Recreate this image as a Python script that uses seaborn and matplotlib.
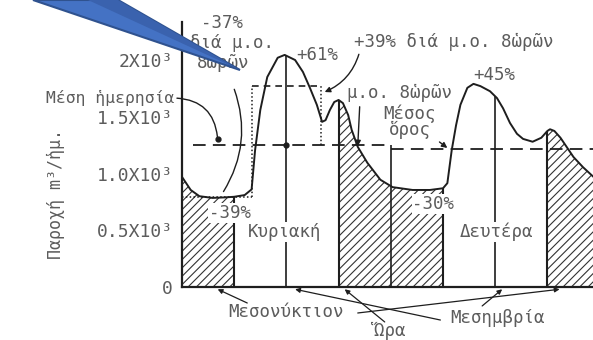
import numpy as np
import pandas as pd
import matplotlib.pyplot as plt
from matplotlib.patches import Polygon
import seaborn as sns

# --- data (hours from Sunday midnight, m3/h) ---
hours = [0, 1, 2, 3.5, 5, 6, 7.2, 8.0, 8.4, 9.0, 9.8, 11.0, 11.8, 13.0, 13.9, 14.7,
         15.5, 16.1, 16.5, 17.0, 17.5, 18.0, 18.5, 19.1, 19.5, 20.2, 21.3, 22.8, 24.2,
         26.5, 28.5, 30.0, 30.5, 31.0, 31.5, 32.0, 32.8, 33.5, 34.3, 35.4, 36.2, 36.9,
         37.7, 38.5, 39.2, 40.3, 41.3, 42.0, 42.3, 42.8, 43.5, 45.0, 46.1, 47.3]
flow = [970, 855, 800, 785, 790, 795, 810, 860, 1205, 1560, 1850, 2020, 2045, 2000, 1895, 1755,
        1605, 1455, 1470, 1560, 1630, 1648, 1620, 1515, 1385, 1235, 1095, 945, 880,
        855, 855, 870, 915, 1205, 1425, 1605, 1755, 1790, 1770, 1725, 1665, 1575,
        1445, 1350, 1305, 1280, 1315, 1375, 1390, 1375, 1315, 1145, 1055, 970]

low_start = [0, 18, 42]
low_end = [6, 30, 47.3]
marker_hours = [12, 36]

ma_edges = [0, 8, 16, 24]
ma_values = [790, 1770, 1250]

day_edges = [1.3, 24, 47.3]
day_mean = [1250, 1220]

yticks = [0, 500, 1000, 1500, 2000]
ytick_labels = ['0', '0.5X10³', '1.0X10³', '1.5X10³', '2X10³']
xticks = [3, 9, 15, 21, 27, 33, 39, 45]

sns.set_style('white')
plt.rcParams['font.family'] = ['DejaVu Sans Mono', 'DejaVu Sans']
plt.rcParams['hatch.linewidth'] = 0.8

ink = '#1e1e1e'
txt = dict(fontsize=12.5, color='#5c5c5c')
wbox = dict(facecolor='white', edgecolor='none', pad=0.5)

fig = plt.figure(figsize=(5.93, 3.40), dpi=100)
ax = fig.add_axes([182 / 593, 53 / 340, 411 / 593, 265 / 340])

df = pd.DataFrame({'hour': hours, 'flow': flow})
sns.lineplot(data=df, x='hour', y='flow', ax=ax, color=ink, lw=1.4,
             estimator=None, sort=False)

# hatched low-flow periods
for s, e in zip(low_start, low_end):
    m = (df['hour'] >= s) & (df['hour'] <= e)
    ax.fill_between(df['hour'][m], df['flow'][m], 0, facecolor='none',
                    edgecolor='#333333', hatch='////', linewidth=0)
    for b in (s, e):
        if 0 < b < hours[-1]:
            ax.vlines(b, 0, np.interp(b, hours, flow), color=ink, lw=1.5)

for h in marker_hours:
    ax.vlines(h, 0, np.interp(h, hours, flow), color=ink, lw=1.2)
ax.vlines(ma_edges[-1], 0, day_mean[0], color=ink, lw=1.2)

# daily means
for i, v in enumerate(day_mean):
    ax.hlines(v, day_edges[i], day_edges[i + 1], color=ink, lw=1.3, ls=(0, (7, 4)))

# 8-hour moving average steps
ax.hlines(ma_values[0], ma_edges[0], ma_edges[1], color=ink, lw=1.1, ls=(0, (1, 1.5)))
ax.hlines(ma_values[1], ma_edges[1], ma_edges[2], color=ink, lw=1.2, ls=(0, (4, 3)))
ax.vlines(ma_edges[1], ma_values[0], ma_values[1], color=ink, lw=1.1, ls=(0, (1, 1.5)))
ax.vlines(ma_edges[2], ma_values[2], ma_values[1], color=ink, lw=1.1, ls=(0, (1, 1.5)))
ax.plot([marker_hours[0]], [day_mean[0]], 'o', color=ink, ms=3.5)

# labels on the chart
ax.text(4.6, 2326, '-37%', ha='center', va='center', **txt)
ax.text(5.7, 2150, 'διά μ.ο.', ha='center', va='center', **txt)
ax.text(4.7, 1974, '8ὡρῶν', ha='center', va='center', **txt)
ax.annotate('', xy=(4.6, 820), xytext=(5.9, 1765),
            arrowprops=dict(arrowstyle='-', color=ink, lw=1,
                            connectionstyle='arc3,rad=-0.25'))

ax.text(-8.3, 1665, 'Μέση ἡμερησία', ha='center', va='center',
        fontsize=11.8, color='#5c5c5c')
ax.annotate('', xy=(4.1, 1300), xytext=(-0.9, 1665), annotation_clip=False,
            arrowprops=dict(arrowstyle='-', color=ink, lw=1,
                            connectionstyle='arc3,rad=-0.45'))
ax.plot([4.1], [1300], 'o', color=ink, ms=3.5)

ax.text(15.6, 2044, '+61%', ha='center', va='center', **txt)
ax.annotate('+39% διά μ.ο. 8ὡρῶν', xy=(16.4, 1718), xytext=(19.8, 2159),
            ha='left', va='center', **txt,
            arrowprops=dict(arrowstyle='-|>', color=ink, lw=1, mutation_scale=8,
                            relpos=(0.03, 0.1), shrinkA=0, shrinkB=0,
                            connectionstyle='arc3,rad=-0.25'))
ax.annotate('μ.ο. 8ὡρῶν', xy=(20.2, 1240), xytext=(19.0, 1709),
            ha='left', va='center', **txt,
            arrowprops=dict(arrowstyle='-|>', color=ink, lw=1, mutation_scale=8,
                            relpos=(0.12, 0), shrinkA=1, shrinkB=0))
ax.annotate('Μέσος\nὅρος', xy=(30.5, 1225), xytext=(26.2, 1454),
            ha='center', va='center', linespacing=0.85, **txt,
            arrowprops=dict(arrowstyle='-|>', color=ink, lw=1, mutation_scale=8,
                            relpos=(0.95, 0.05), shrinkA=0, shrinkB=0))
ax.text(35.9, 1868, '+45%', ha='center', va='center', **txt)

ax.text(5.5, 652, '-39%', ha='center', va='center', bbox=wbox, zorder=5, **txt)
ax.text(28.9, 731, '-30%', ha='center', va='center', bbox=wbox, zorder=5, **txt)
ax.text(11.8, 485, 'Κυριακή', ha='center', va='center', bbox=wbox, zorder=5, **txt)
ax.text(36.1, 485, 'Δευτέρα', ha='center', va='center', bbox=wbox, zorder=5, **txt)

# time captions under the axis
ax.text(12.0, -220, 'Μεσονύκτιον', ha='center', va='center', **txt)
ax.text(23.9, -388, 'Ὥρα', ha='center', va='center', **txt)
ax.text(36.3, -273, 'Μεσημβρία', ha='center', va='center', **txt)
leader = dict(arrowstyle='-|>', color=ink, lw=0.9, mutation_scale=7, shrinkA=0, shrinkB=0)
for xy, xyt in [((4.1, -20), (7.5, -141)), ((43.4, -20), (20.2, -229)),
                ((13.0, -20), (29.7, -291)), ((36.8, -20), (34.5, -167)),
                ((18.7, -20), (23.3, -308))]:
    ax.annotate('', xy=xy, xytext=xyt, annotation_clip=False, arrowprops=leader)

# axes
ax.set_xlim(0, 47.24)
ax.set_ylim(0, 2335)
ax.set_yticks(yticks)
ax.set_yticklabels(ytick_labels, fontsize=13, color='#5c5c5c')
ax.set_xticks(xticks)
ax.set_xticklabels([])
ax.tick_params(axis='y', direction='inout', length=7, width=1.2, color=ink, pad=3)
ax.tick_params(axis='x', direction='in', length=5, width=1.2, color=ink)
ax.set_xlabel('')
ax.set_ylabel('Παροχή m³/ἡμ.', fontsize=12, color='#5c5c5c')
ax.yaxis.set_label_coords(-0.285, 0.35)
sns.despine(ax=ax)
for sp in ('left', 'bottom'):
    ax.spines[sp].set_color(ink)
    ax.spines[sp].set_linewidth(1.6)

# blue callout pointer overlaid on the scan
def fpx(pts):
    return [(x / 593, 1 - y / 340) for x, y in pts]

fig.add_artist(Polygon(fpx([(33, 0), (118, 0), (240, 70)]), closed=True,
                       transform=fig.transFigure, facecolor='#4472C4',
                       edgecolor='#2F528F', lw=1.5, zorder=20))
fig.add_artist(Polygon(fpx([(88, 0), (118, 0), (240, 70)]), closed=True,
                       transform=fig.transFigure, facecolor='#3A62AE',
                       edgecolor='none', zorder=21))

fig.savefig('out.png', dpi=100)
